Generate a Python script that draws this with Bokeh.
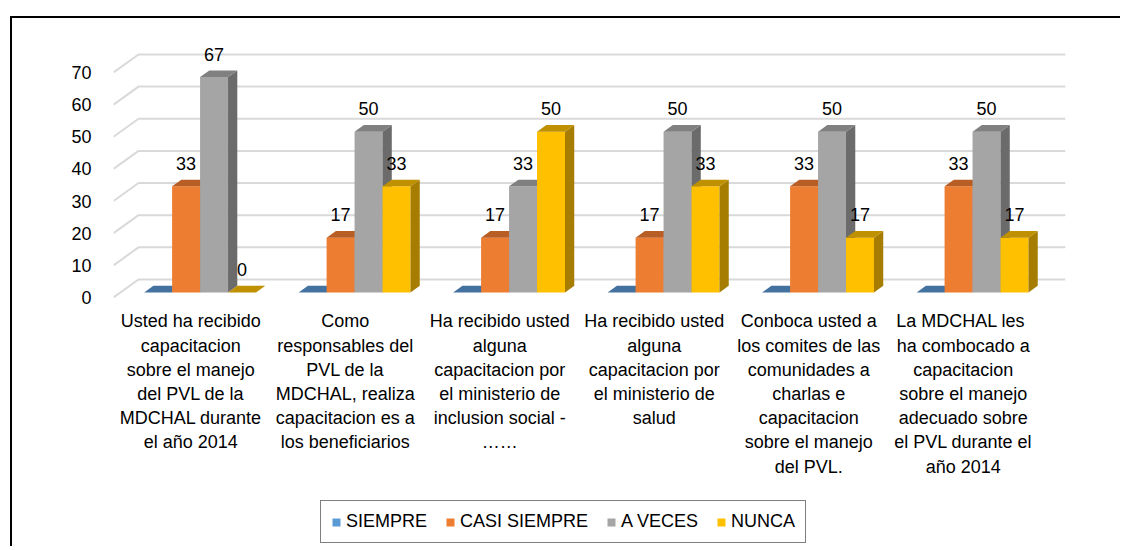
from bokeh.plotting import figure
from bokeh.models import ColumnDataSource, FixedTicker, Range1d, Legend, LegendItem
from bokeh.core.properties import value
from bokeh.embed import file_html
from bokeh.resources import INLINE

# ---------------- data ----------------
categories = [
    "Usted ha recibido\ncapacitacion\nsobre el manejo\ndel PVL de la\nMDCHAL durante\nel año 2014",
    "Como\nresponsables del\nPVL de la\nMDCHAL, realiza\ncapacitacion es a\nlos beneficiarios",
    "Ha recibido usted\nalguna\ncapacitacion por\nel ministerio de\ninclusion social -\n……",
    "Ha recibido usted\nalguna\ncapacitacion por\nel ministerio de\nsalud",
    "Conboca usted a\nlos comites de las\ncomunidades a\ncharlas e\ncapacitacion\nsobre el manejo\ndel PVL.",
    "La  MDCHAL les\nha combocado a\ncapacitacion\nsobre el manejo\nadecuado sobre\nel PVL durante el\naño 2014",
]
series_names = ["SIEMPRE", "CASI SIEMPRE", "A VECES", "NUNCA"]
siempre = [0, 0, 0, 0, 0, 0]
casi_siempre = [33, 17, 17, 17, 33, 33]
a_veces = [67, 50, 33, 50, 50, 50]
nunca = [0, 33, 50, 33, 17, 17]
y_ticks = [0, 10, 20, 30, 40, 50, 60, 70]
show_labels = [False, True, True, True]

# ---------------- style ----------------
front_colors = ["#5B9BD5", "#ED7D31", "#A5A5A5", "#FFC000"]
top_colors = ["#4472A0", "#B85D24", "#808080", "#BF9000"]
side_colors = ["#3D6690", "#A4521E", "#6B6B6B", "#A67D00"]
FONT_NAME = "Liberation Sans"
FONT = value(FONT_NAME)
FS = "18px"

DEPTH_X, DEPTH_Y = 0.162, 5.6      # floor depth (category units, value units)
F0, F1 = 0.28, 0.65                # bar front / back depth fractions
BAR_W = 0.181
SHIFT = 0.015
X_END, Y_START, Y_END = 6.162, -78.1, 81.5

p = figure(width=1110, height=530,
           x_range=Range1d(0, X_END), y_range=Range1d(Y_START, Y_END),
           output_backend="svg", toolbar_location=None,
           min_border_left=101, min_border_right=57,
           min_border_top=17, min_border_bottom=0)
p.outline_line_color = None
p.xgrid.visible = False
p.ygrid.visible = False
p.xaxis.visible = False
p.background_fill_color = "white"
p.border_fill_color = "white"
p.styles = {"position": "relative", "left": "10px", "top": "16px",
            "border-left": "2px solid #000", "border-top": "2px solid #000"}

# 3D grid lines (front floor edge -> back wall)
gx = [[0, DEPTH_X, X_END] for v in y_ticks]
gy = [[v, v + DEPTH_Y, v + DEPTH_Y] for v in y_ticks]
p.multi_line(gx, gy, line_color="#D9D9D9", line_width=2)

values = [siempre, casi_siempre, a_veces, nunca]
n = len(categories)
ddx = (F1 - F0) * DEPTH_X
ddy = (F1 - F0) * DEPTH_Y
base = F0 * DEPTH_Y
front_renderers = []
label_x, label_y, label_t = [], [], []
for k, vals in enumerate(values):
    xl = [i + 0.5 + (k - 2) * BAR_W + F0 * DEPTH_X + SHIFT for i in range(n)]
    xr = [x + BAR_W for x in xl]
    tops = [base + v for v in vals]
    src = ColumnDataSource(dict(left=xl, right=xr, bottom=[base] * n, top=tops))
    r = p.quad(left="left", right="right", bottom="bottom", top="top", source=src,
               fill_color=front_colors[k], line_color=None)
    front_renderers.append(r)
    side_xs = [[b, b + ddx, b + ddx, b] for b in xr]
    side_ys = [[base, base + ddy, t + ddy, t] for t in tops]
    p.patches(side_xs, side_ys, fill_color=side_colors[k], line_color=None)
    top_xs = [[a, b, b + ddx, a + ddx] for a, b in zip(xl, xr)]
    top_ys = [[t, t, t + ddy, t + ddy] for t in tops]
    p.patches(top_xs, top_ys, fill_color=top_colors[k], line_color=None)
    if show_labels[k]:
        for a, b, v, t in zip(xl, xr, vals, tops):
            label_x.append((a + b) / 2)
            label_y.append(t)
            label_t.append(str(v))

# data labels
lsrc = ColumnDataSource(dict(x=label_x, y=label_y, text=label_t))
p.text(x="x", y="y", text="text", source=lsrc, text_align="center",
       text_baseline="middle", y_offset=-23, text_font=FONT,
       text_font_size=FS, text_color="#000000")

# category labels (multi-line, under the floor)
csrc = ColumnDataSource(dict(x=[i + 0.5 for i in range(n)], y=[0] * n, text=categories))
p.text(x="x", y="y", text="text", source=csrc, text_align="center",
       text_baseline="top", y_offset=14, text_font=FONT, text_font_size=FS,
       text_line_height=1.21, text_color="#000000")

# y axis
p.yaxis.ticker = FixedTicker(ticks=y_ticks)
p.yaxis.axis_line_color = None
p.yaxis.major_tick_line_color = None
p.yaxis.minor_tick_line_color = None
p.yaxis.major_label_standoff = 16
p.yaxis.major_label_text_font = FONT_NAME
p.yaxis.major_label_text_font_size = FS
p.yaxis.major_label_text_color = "#000000"

legend = Legend(items=[LegendItem(label=s, renderers=[r])
                       for s, r in zip(series_names, front_renderers)],
                location=(207, 5), orientation="horizontal",
                glyph_width=10, glyph_height=10, label_standoff=5, spacing=18,
                padding=10, margin=0,
                label_text_font=FONT_NAME, label_text_font_size=FS,
                label_text_color="#000000",
                border_line_color="#000000", border_line_width=1.5,
                background_fill_color="white", background_fill_alpha=1.0)
p.add_layout(legend)

open("out.html", "w").write(file_html(p, INLINE))
